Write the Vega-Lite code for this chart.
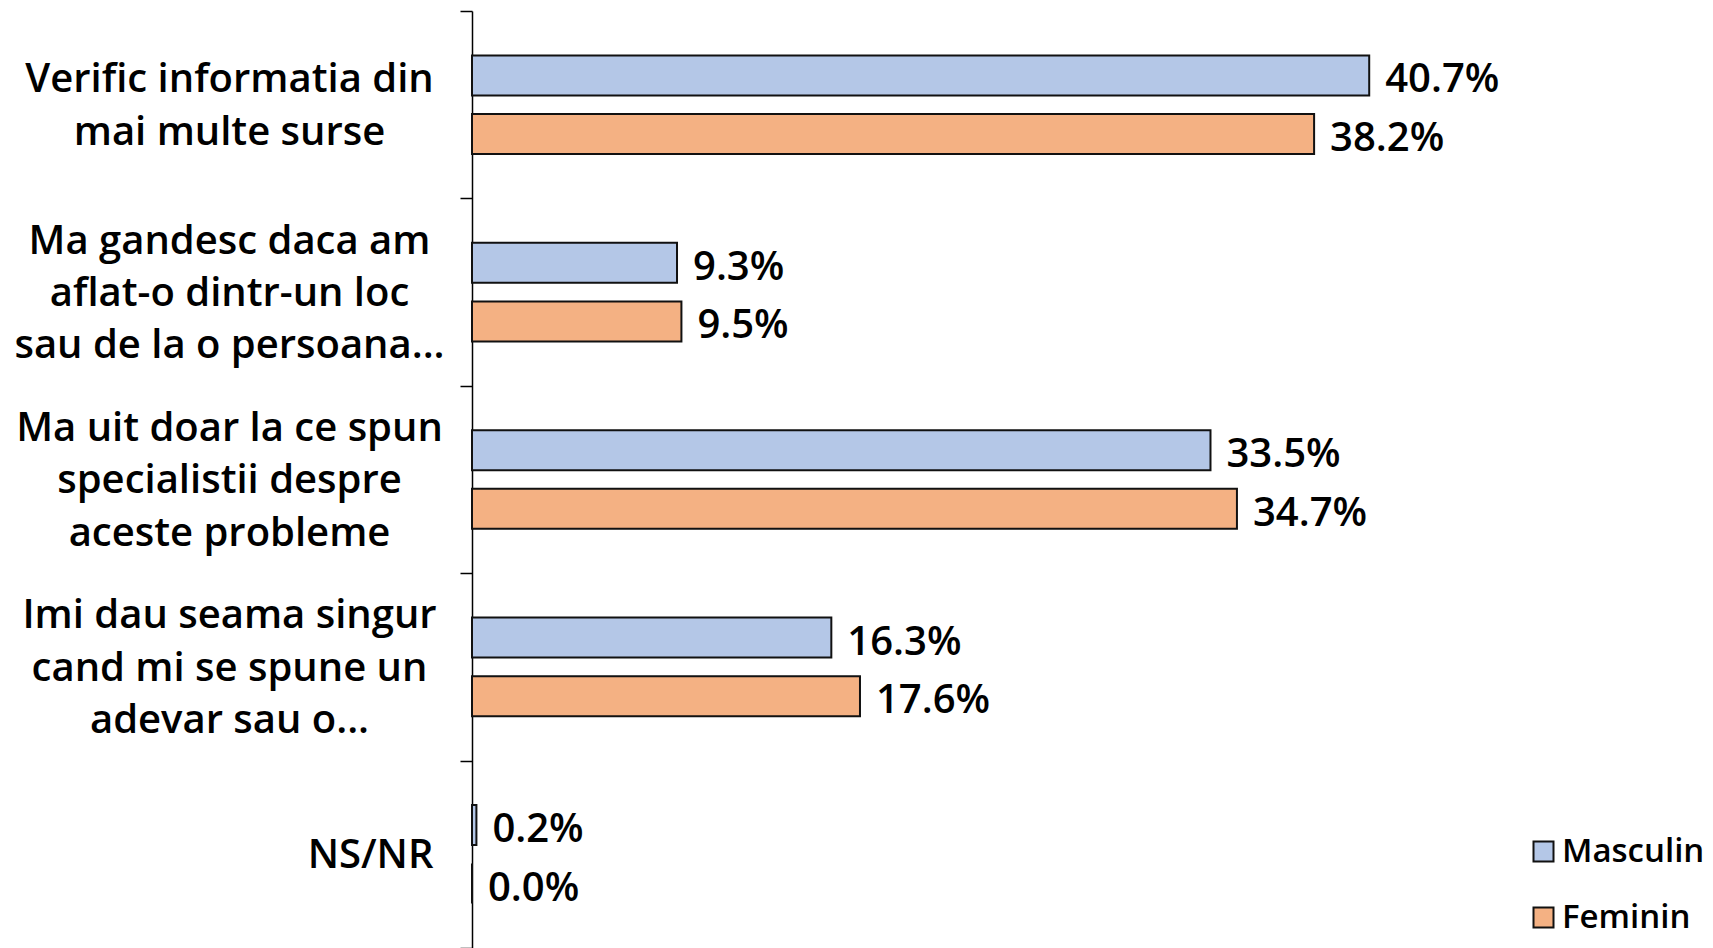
{
  "$schema": "https://vega.github.io/schema/vega-lite/v6.json",
  "autosize": "none",
  "width": 992,
  "height": 937,
  "padding": {"left": 472, "top": 11, "right": 249, "bottom": 0},
  "background": "white",
  "config": {"view": {"stroke": null}, "font": "Open Sans"},
  "data": {
    "values": [
      {"category": "Verific informatia din|mai multe surse", "gender": "Masculin", "value": 0.407},
      {"category": "Verific informatia din|mai multe surse", "gender": "Feminin", "value": 0.382},
      {"category": "Ma gandesc daca am|aflat-o dintr-un loc|sau de la o persoana...", "gender": "Masculin", "value": 0.093},
      {"category": "Ma gandesc daca am|aflat-o dintr-un loc|sau de la o persoana...", "gender": "Feminin", "value": 0.095},
      {"category": "Ma uit doar la ce spun|specialistii despre|aceste probleme", "gender": "Masculin", "value": 0.335},
      {"category": "Ma uit doar la ce spun|specialistii despre|aceste probleme", "gender": "Feminin", "value": 0.347},
      {"category": "Imi dau seama singur|cand mi se spune un|adevar sau o...", "gender": "Masculin", "value": 0.163},
      {"category": "Imi dau seama singur|cand mi se spune un|adevar sau o...", "gender": "Feminin", "value": 0.176},
      {"category": "NS/NR", "gender": "Masculin", "value": 0.002},
      {"category": "NS/NR", "gender": "Feminin", "value": 0.0}
    ]
  },
  "encoding": {
    "y": {
      "field": "category",
      "type": "nominal",
      "sort": null,
      "scale": {"paddingInner": 0, "paddingOuter": 0},
      "axis": {
        "title": null,
        "domainColor": "#000",
        "domainWidth": 1.5,
        "tickColor": "#000",
        "tickWidth": 1.5,
        "tickSize": 12,
        "tickBand": "extent",
        "labelExpr": "datum.label === 'NS/NR' ? ['\u200b', '\u200b', 'NS/NR'] : (indexof(datum.label, 'Verific') === 0 ? ['\u200b', split(datum.label, '|')[0], '\u200b', split(datum.label, '|')[1]] : [split(datum.label, '|')[0], '\u200b', split(datum.label, '|')[1], '\u200b', split(datum.label, '|')[2]])",
        "labelAlign": {"condition": {"test": "datum.value === 'NS/NR'", "value": "right"}, "value": "center"},
        "labelPadding": {"condition": {"test": "datum.value === 'NS/NR'", "value": 27}, "value": 231},
        "labelOffset": -51,
        "labelBaseline": "middle",
        "labelFontSize": 40,
        "labelFontWeight": 600,
        "labelLineHeight": 26.2,
        "labelColor": "#000",
        "labelLimit": 0
      }
    },
    "yOffset": {
      "field": "gender",
      "sort": ["Masculin", "Feminin"],
      "scale": {"paddingInner": 0.317, "paddingOuter": 0.7575}
    },
    "x": {
      "field": "value",
      "type": "quantitative",
      "scale": {"domain": [0, 0.45]},
      "axis": null
    }
  },
  "layer": [
    {
      "mark": {"type": "bar", "stroke": "#111", "strokeWidth": 2},
      "encoding": {
        "color": {
          "field": "gender",
          "type": "nominal",
          "scale": {"domain": ["Masculin", "Feminin"], "range": ["#B4C7E7", "#F4B183"]},
          "legend": {
            "orient": "none",
            "legendX": 1055,
            "legendY": 824,
            "title": null,
            "padding": 0,
            "symbolType": "square",
            "symbolSize": 400,
            "symbolStrokeColor": "#111",
            "symbolStrokeWidth": 2,
            "labelFontSize": 33,
            "labelFontWeight": 600,
            "labelColor": "#000",
            "labelOffset": 2,
            "labelLimit": 300,
            "rowPadding": 32
          }
        }
      }
    },
    {
      "mark": {"type": "text", "align": "left", "baseline": "middle", "dx": 16, "dy": 5, "fontSize": 40, "fontWeight": 600, "color": "#000"},
      "encoding": {
        "text": {"field": "value", "type": "quantitative", "format": ".1%"}
      }
    }
  ]
}
